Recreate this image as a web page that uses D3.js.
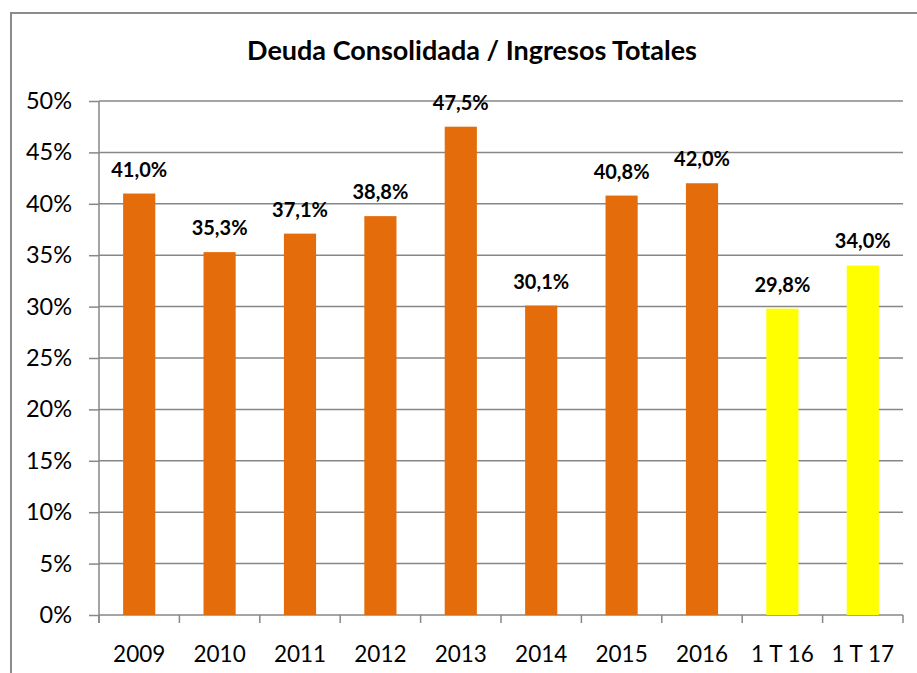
<!DOCTYPE html>
<html>
<head>
<meta charset="utf-8">
<script src="https://cdn.jsdelivr.net/npm/d3@7"></script>
<style>
  body { margin: 0; background: #fff; }
  svg { display: block; font-family: Lato, "DejaVu Sans", sans-serif; }
</style>
</head>
<body>
<svg id="chart" width="917" height="673"></svg>
<script>
const categories = ["2009", "2010", "2011", "2012", "2013", "2014", "2015", "2016", "1 T 16", "1 T 17"];
const values = [41.0, 35.3, 37.1, 38.8, 47.5, 30.1, 40.8, 42.0, 29.8, 34.0];
const barColors = ["#E46C0A", "#E46C0A", "#E46C0A", "#E46C0A", "#E46C0A", "#E46C0A", "#E46C0A", "#E46C0A", "#FFFF00", "#FFFF00"];
const yTicks = [0, 5, 10, 15, 20, 25, 30, 35, 40, 45, 50];
const title = "Deuda Consolidada / Ingresos Totales";

const svg = d3.select("#chart");
const plotLeft = 99, plotRight = 903, plotTop = 101, plotBottom = 615;
const gridColor = "#878787";

// outer chart frame (only top and left edges fall inside the picture)
svg.append("rect")
    .attr("x", 11).attr("y", 13)
    .attr("width", 1000).attr("height", 1000)
    .attr("fill", "none")
    .attr("stroke", "#8c8c8c")
    .attr("stroke-width", 2);

svg.append("text")
    .attr("x", 472).attr("y", 60)
    .attr("text-anchor", "middle")
    .attr("font-weight", "bold")
    .attr("font-size", 27)
    .attr("fill", "#000")
    .text(title);

var x = d3.scaleBand()
    .domain(categories)
    .range([plotLeft, plotRight])
    .paddingInner(0.6)
    .paddingOuter(0.3);

var y = d3.scaleLinear()
    .domain([0, 50])
    .range([plotBottom, plotTop]);

// gridlines + y axis
var yAxis = svg.append("g")
    .attr("transform", "translate(" + plotLeft + ",0)")
    .call(d3.axisLeft(y).tickValues(yTicks).tickSize(10).tickPadding(17)
      .tickFormat(function(d) { return d + "%"; }));
yAxis.select(".domain").remove();
yAxis.selectAll(".tick line").attr("stroke", gridColor).attr("stroke-width", 1.5);
yAxis.selectAll(".tick text")
    .attr("font-family", "Lato, sans-serif")
    .attr("font-size", 23.5)
    .attr("fill", "#000");

svg.append("g")
  .selectAll("line")
  .data(yTicks)
  .enter().append("line")
    .attr("x1", plotLeft).attr("x2", plotRight)
    .attr("y1", function(d) { return y(d); })
    .attr("y2", function(d) { return y(d); })
    .attr("stroke", gridColor)
    .attr("stroke-width", 1.5);

// bars
svg.append("g")
  .selectAll("rect")
  .data(values)
  .enter().append("rect")
    .attr("x", function(d, i) { return x(categories[i]); })
    .attr("y", function(d) { return y(d); })
    .attr("width", x.bandwidth())
    .attr("height", function(d) { return y(0) - y(d); })
    .attr("fill", function(d, i) { return barColors[i]; });

// value labels
svg.append("g")
  .selectAll("text")
  .data(values)
  .enter().append("text")
    .attr("x", function(d, i) { return x(categories[i]) + x.bandwidth() / 2; })
    .attr("y", function(d) { return y(d) - 17; })
    .attr("text-anchor", "middle")
    .attr("font-weight", "bold")
    .attr("font-size", 20)
    .attr("fill", "#000")
    .text(function(d) { return d.toFixed(1).replace(".", ",") + "%"; });

// y axis line and category axis
svg.append("line")
    .attr("x1", plotLeft).attr("x2", plotLeft)
    .attr("y1", plotTop).attr("y2", plotBottom + 8)
    .attr("stroke", gridColor).attr("stroke-width", 1.5);

var step = x.step();
var edges = categories.map(function(c) { return x(c) + x.bandwidth() / 2 - step / 2; });
edges.push(plotRight);
svg.append("g")
  .selectAll("line")
  .data(edges)
  .enter().append("line")
    .attr("x1", function(d) { return d; }).attr("x2", function(d) { return d; })
    .attr("y1", plotBottom).attr("y2", plotBottom + 8)
    .attr("stroke", gridColor).attr("stroke-width", 1.5);

svg.append("g")
  .selectAll("text")
  .data(categories)
  .enter().append("text")
    .attr("x", function(d) { return x(d) + x.bandwidth() / 2; })
    .attr("y", 662)
    .attr("text-anchor", "middle")
    .attr("font-size", 22.5)
    .attr("fill", "#000")
    .text(function(d) { return d; });
</script>
</body>
</html>
